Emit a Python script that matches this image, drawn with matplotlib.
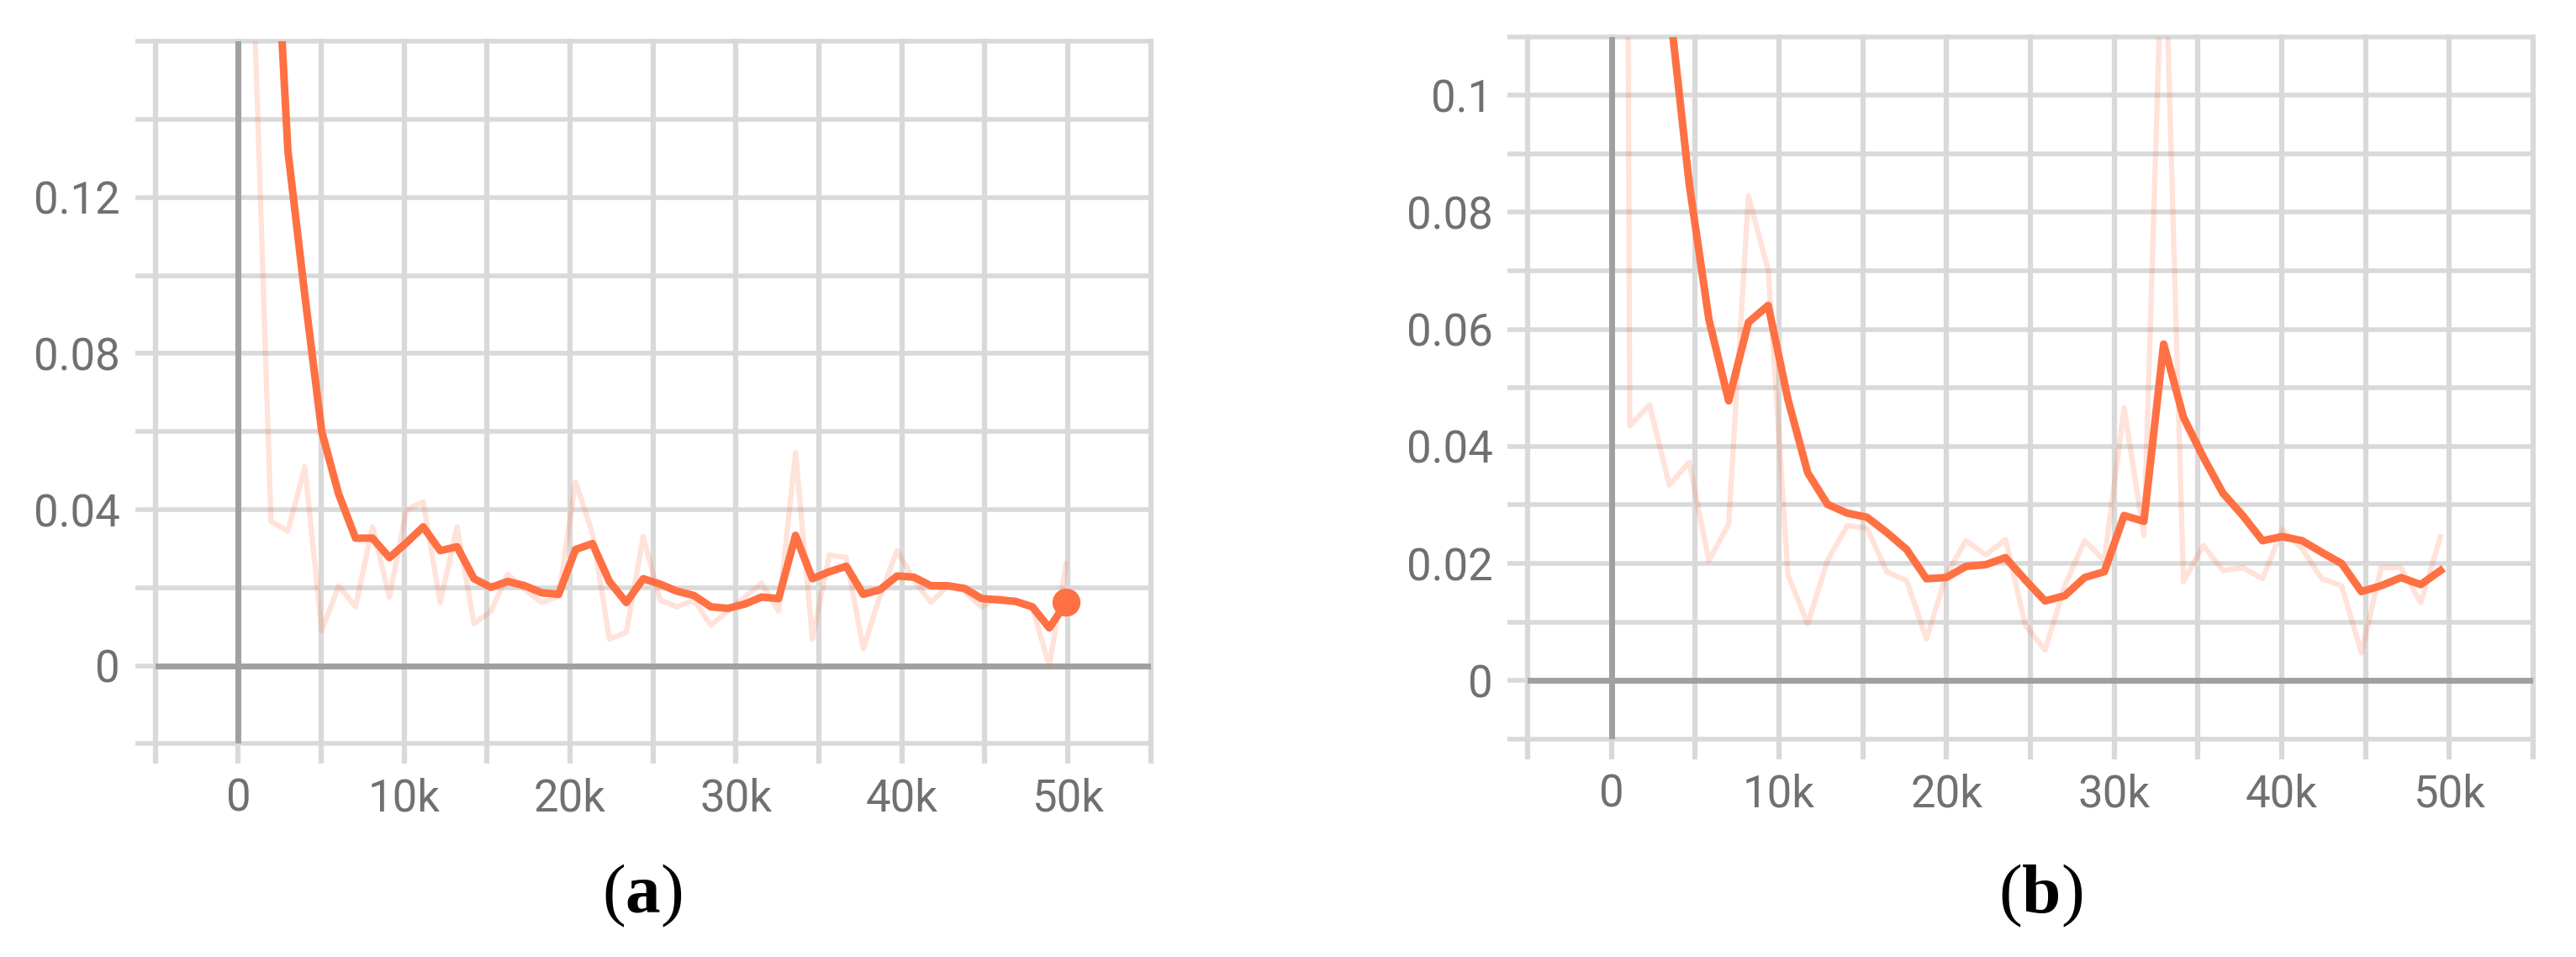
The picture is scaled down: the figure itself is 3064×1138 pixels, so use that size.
import matplotlib
matplotlib.use("Agg")
import numpy as np
import matplotlib.pyplot as plt
from matplotlib.ticker import FixedLocator, FuncFormatter

plt.rcParams['font.family'] = ['Roboto', 'DejaVu Sans']
plt.rcParams['mathtext.fontset'] = 'custom'
plt.rcParams['mathtext.rm'] = 'Liberation Serif'
plt.rcParams['mathtext.bf'] = 'Liberation Serif:bold'

# panel (a): training steps, raw loss, smoothed loss
steps_a = [0, 950, 1970, 2990, 4010, 5030, 6050, 7070, 8090, 9110,
           10130, 11150, 12170, 13190, 14210, 15230, 16250, 17270, 18290, 19310,
           20330, 21350, 22370, 23390, 24410, 25430, 26450, 27470, 28490, 29510,
           30530, 31550, 32570, 33590, 34610, 35630, 36650, 37670, 38690, 39710,
           40730, 41750, 42770, 43790, 44810, 45830, 46850, 47870, 48890, 49910]
raw_a = [0.78, 0.17, 0.037, 0.0345, 0.051, 0.009, 0.0205, 0.0151, 0.0356, 0.0176,
         0.0399, 0.042, 0.0162, 0.0356, 0.0108, 0.014, 0.0234, 0.0195, 0.0162, 0.0177,
         0.0471, 0.034, 0.0068, 0.0086, 0.0331, 0.0168, 0.0151, 0.0168, 0.0104, 0.014,
         0.0176, 0.0212, 0.014, 0.0546, 0.0068, 0.0284, 0.0277, 0.0043, 0.018, 0.0295,
         0.022, 0.0162, 0.0205, 0.019, 0.015, 0.0176, 0.0162, 0.0148, 0.0, 0.0262]
smooth_a = [0.78, 0.40, 0.214, 0.132, 0.095, 0.060, 0.044, 0.0327, 0.0327, 0.0277,
            0.0315, 0.0356, 0.0295, 0.0305, 0.0223, 0.0201, 0.0216, 0.0205, 0.0187, 0.0183,
            0.0298, 0.0313, 0.0216, 0.0162, 0.0223, 0.0209, 0.0191, 0.018, 0.0151, 0.0147,
            0.0158, 0.0176, 0.0172, 0.0334, 0.0223, 0.0241, 0.0255, 0.0183, 0.0195, 0.023,
            0.0227, 0.0205, 0.0205, 0.0198, 0.0172, 0.0169, 0.0165, 0.0151, 0.0097, 0.0162]

# panel (b)
steps_b = [0, 1100, 2280, 3460, 4640, 5820, 7000, 8180, 9360, 10540,
           11720, 12900, 14080, 15260, 16440, 17620, 18800, 19980, 21160, 22340,
           23520, 24700, 25880, 27060, 28240, 29420, 30600, 31780, 32960, 34140,
           35320, 36500, 37680, 38860, 40040, 41220, 42400, 43580, 44760, 45940,
           47120, 48300, 49480]
raw_b = [0.80, 0.0435, 0.0471, 0.0334, 0.0373, 0.0205, 0.0267, 0.0828, 0.0701, 0.018,
         0.0097, 0.0205, 0.0265, 0.026, 0.0186, 0.0171, 0.0071, 0.018, 0.0239, 0.0215,
         0.0241, 0.0095, 0.0052, 0.0162, 0.0239, 0.0205, 0.0466, 0.0248, 0.135, 0.0169,
         0.0231, 0.0188, 0.0193, 0.0174, 0.0258, 0.0225, 0.0174, 0.0162, 0.0047, 0.0193,
         0.0193, 0.0133, 0.0246]
smooth_b = [0.80, 0.33, 0.186, 0.1157, 0.085, 0.0617, 0.0478, 0.0612, 0.0641, 0.048,
            0.0355, 0.0301, 0.0286, 0.0279, 0.0253, 0.0224, 0.0174, 0.0176, 0.0195, 0.0198,
            0.021, 0.0172, 0.0136, 0.0145, 0.0176, 0.0186, 0.0282, 0.0272, 0.0575, 0.045,
            0.0382, 0.032, 0.0282, 0.0239, 0.0246, 0.0239, 0.0219, 0.020, 0.0152, 0.0162,
            0.0176, 0.0164, 0.0188]

ORANGE = '#ff7043'
GRID = '#d9d9d9'
ZERO = '#a0a0a0'
LABEL = '#707070'


def fmt_x(v, pos):
    return '0' if v == 0 else f'{int(round(v / 1000))}k'


def fmt_y(v, pos):
    return f'{round(v, 4):g}'


def setup(ax, ylim, ymajor, ygrid):
    ax.set_xlim(-5000, 55000)
    ax.set_ylim(*ylim)
    xgrid = np.arange(-5000, 55001, 5000)
    ax.xaxis.set_major_locator(FixedLocator([0, 10000, 20000, 30000, 40000, 50000]))
    ax.xaxis.set_minor_locator(FixedLocator(xgrid))
    ax.yaxis.set_major_locator(FixedLocator(ymajor))
    ax.yaxis.set_minor_locator(FixedLocator(ygrid))
    ax.xaxis.set_major_formatter(FuncFormatter(fmt_x))
    ax.yaxis.set_major_formatter(FuncFormatter(fmt_y))
    for x in xgrid:
        ax.axvline(x, color=GRID, lw=4.5, zorder=0, clip_on=False)
    for y in ygrid:
        ax.axhline(y, color=GRID, lw=4, zorder=0, clip_on=False)
    ax.axvline(0, color=ZERO, lw=5, zorder=1)
    ax.axhline(0, color=ZERO, lw=5, zorder=1)
    for s in ax.spines.values():
        s.set_visible(False)
    ax.tick_params(axis='x', which='both', direction='out', length=17, width=4.5,
                   color=GRID, labelsize=38, labelcolor=LABEL, pad=12)
    ax.tick_params(axis='y', which='both', direction='out', length=17, width=4,
                   color=GRID, labelsize=38, labelcolor=LABEL, pad=13)


fig = plt.figure(figsize=(30.64, 11.38), dpi=100)

ax1 = fig.add_axes([0.0603, 0.2228, 0.3864, 0.7339])
setup(ax1, (-0.02, 0.16), [0, 0.04, 0.08, 0.12], np.arange(-0.02, 0.1601, 0.02))
ax1.plot(steps_a, raw_a, color=ORANGE, alpha=0.2, lw=4.5, zorder=2)
ax1.plot(steps_a, smooth_a, color=ORANGE, lw=6.5, zorder=3)
ax1.plot(steps_a[-1], smooth_a[-1], 'o', ms=23, color=ORANGE, zorder=4, clip_on=False)

ax2 = fig.add_axes([0.593, 0.2277, 0.3903, 0.7339])
setup(ax2, (-0.01, 0.11), [0, 0.02, 0.04, 0.06, 0.08, 0.1], np.arange(-0.01, 0.1101, 0.01))
ax2.plot(steps_b, raw_b, color=ORANGE, alpha=0.2, lw=4.5, zorder=2)
ax2.plot(steps_b, smooth_b, color=ORANGE, lw=6.5, zorder=3)

fig.text(0.2493, 0.064, r'($\mathbf{a}$)', fontsize=60, family='Liberation Serif',
         ha='center', va='center')
fig.text(0.792, 0.064, r'($\mathbf{b}$)', fontsize=60, family='Liberation Serif',
         ha='center', va='center')

fig.savefig('out.png', dpi=100)
